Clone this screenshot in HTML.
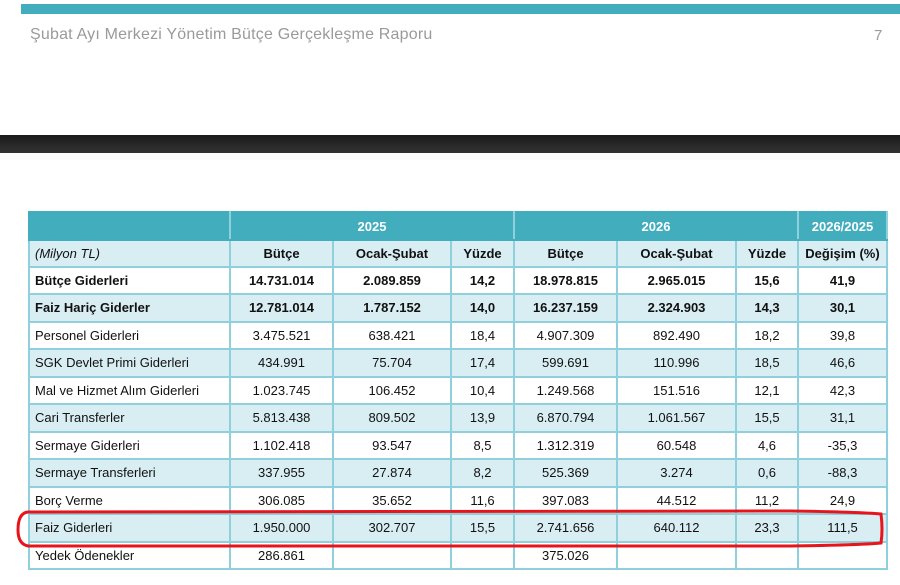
<!DOCTYPE html>
<html><head><meta charset="utf-8"><style>
body{margin:0;width:900px;height:585px;background:#fff;position:relative;overflow:hidden;font-family:"Liberation Sans",sans-serif;}
.top{position:absolute;left:21px;top:4px;width:879px;height:10px;background:#41adbd;}
.title{position:absolute;left:30px;top:26px;font-size:16px;color:#9a9a9a;letter-spacing:0.2px;}
.pn{position:absolute;left:874px;top:27px;font-size:15px;color:#9a9a9a;}
.dark{position:absolute;left:0;top:135px;width:900px;height:18px;background:linear-gradient(#1a1a1a,#333);}
table{position:absolute;left:28px;top:211px;border-collapse:collapse;font-size:13px;color:#111;table-layout:fixed;}
td{border:2px solid #8fd0dc;text-align:center;padding:0;height:25.5px;}
tr.h1 td{background:#41adbd;color:#fff;font-weight:bold;height:26px;border-color:#41adbd;border-right-color:#8fd0dc;}
tr.h2 td{background:#d9eef3;font-weight:bold;height:24.5px;}
tr.l td{background:#d9eef3;}
td:first-child{text-align:left;padding-left:5px;}
tr.b td{font-weight:bold;}
svg{position:absolute;left:0;top:0;}
</style></head><body>
<div class="top"></div>
<div class="title">Şubat Ayı Merkezi Yönetim Bütçe Gerçekleşme Raporu</div>
<div class="pn">7</div>
<div class="dark"></div>
<table>
<colgroup><col style="width:201px"><col style="width:103px"><col style="width:118px"><col style="width:63px"><col style="width:103px"><col style="width:119px"><col style="width:62px"><col style="width:89px"></colgroup>
<tr class="h1"><td></td><td colspan="3">2025</td><td colspan="3">2026</td><td>2026/2025</td></tr>
<tr class="h2"><td style="font-weight:normal;font-style:italic">(Milyon TL)</td><td>Bütçe</td><td>Ocak-Şubat</td><td>Yüzde</td><td>Bütçe</td><td>Ocak-Şubat</td><td>Yüzde</td><td>Değişim (%)</td></tr>
<tr class="b"><td>Bütçe Giderleri</td><td>14.731.014</td><td>2.089.859</td><td>14,2</td><td>18.978.815</td><td>2.965.015</td><td>15,6</td><td>41,9</td></tr>
<tr class="b l"><td>Faiz Hariç Giderler</td><td>12.781.014</td><td>1.787.152</td><td>14,0</td><td>16.237.159</td><td>2.324.903</td><td>14,3</td><td>30,1</td></tr>
<tr><td>Personel Giderleri</td><td>3.475.521</td><td>638.421</td><td>18,4</td><td>4.907.309</td><td>892.490</td><td>18,2</td><td>39,8</td></tr>
<tr class="l"><td>SGK Devlet Primi Giderleri</td><td>434.991</td><td>75.704</td><td>17,4</td><td>599.691</td><td>110.996</td><td>18,5</td><td>46,6</td></tr>
<tr><td>Mal ve Hizmet Alım Giderleri</td><td>1.023.745</td><td>106.452</td><td>10,4</td><td>1.249.568</td><td>151.516</td><td>12,1</td><td>42,3</td></tr>
<tr class="l"><td>Cari Transferler</td><td>5.813.438</td><td>809.502</td><td>13,9</td><td>6.870.794</td><td>1.061.567</td><td>15,5</td><td>31,1</td></tr>
<tr><td>Sermaye Giderleri</td><td>1.102.418</td><td>93.547</td><td>8,5</td><td>1.312.319</td><td>60.548</td><td>4,6</td><td>-35,3</td></tr>
<tr class="l"><td>Sermaye Transferleri</td><td>337.955</td><td>27.874</td><td>8,2</td><td>525.369</td><td>3.274</td><td>0,6</td><td>-88,3</td></tr>
<tr><td>Borç Verme</td><td>306.085</td><td>35.652</td><td>11,6</td><td>397.083</td><td>44.512</td><td>11,2</td><td>24,9</td></tr>
<tr class="l"><td>Faiz Giderleri</td><td>1.950.000</td><td>302.707</td><td>15,5</td><td>2.741.656</td><td>640.112</td><td>23,3</td><td>111,5</td></tr>
<tr><td>Yedek Ödenekler</td><td>286.861</td><td></td><td></td><td>375.026</td><td></td><td></td><td></td></tr>
</table>
<svg width="900" height="585"><path d="M28 512 L790 511 Q860 512 881 514 Q883 530 881 543 Q860 545 790 546 L28 546 Q18 544 18 530 Q18 513 28 512 Z" fill="none" stroke="#e8141c" stroke-width="3"/></svg>
</body></html>
